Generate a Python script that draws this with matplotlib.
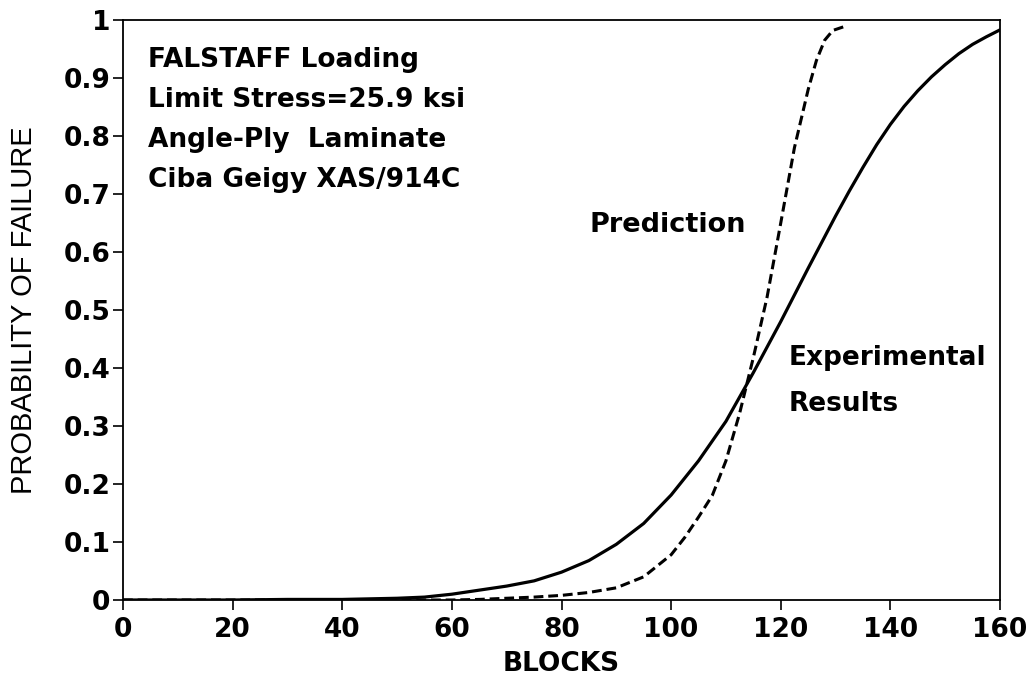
import matplotlib
matplotlib.use("Agg")
import matplotlib.pyplot as plt

# Experimental results (solid)
exp_blocks = [0, 10, 20, 30, 40, 50, 55, 60, 65, 70, 75, 80, 85, 90, 95, 100,
              105, 110, 115, 120, 125, 130, 132.5, 135, 137.5, 140, 142.5, 145,
              147.5, 150, 152.5, 155, 157.5, 160]
exp_prob = [0.0, 0.0, 0.0, 0.001, 0.001, 0.003, 0.005, 0.010, 0.017, 0.024, 0.033,
            0.048, 0.068, 0.096, 0.132, 0.181, 0.240, 0.308, 0.392, 0.480, 0.572,
            0.662, 0.705, 0.746, 0.785, 0.820, 0.851, 0.878, 0.902, 0.923, 0.942,
            0.958, 0.971, 0.983]

# Prediction (dashed)
pred_blocks = [0, 20, 40, 60, 65, 70, 75, 80, 85, 90, 95, 100, 102.5, 105, 107.5,
               110, 112.5, 115, 117.5, 120, 122.5, 125, 126.5, 128, 129.5, 132]
pred_prob = [0.0, 0.0, 0.0, 0.0, 0.001, 0.003, 0.005, 0.008, 0.013, 0.021, 0.040,
             0.078, 0.108, 0.143, 0.180, 0.240, 0.322, 0.418, 0.522, 0.650, 0.780,
             0.880, 0.930, 0.965, 0.982, 0.990]

x_ticks = [0, 20, 40, 60, 80, 100, 120, 140, 160]
y_ticks = [0, 0.1, 0.2, 0.3, 0.4, 0.5, 0.6, 0.7, 0.8, 0.9, 1]
y_tick_labels = ["0", "0.1", "0.2", "0.3", "0.4", "0.5", "0.6", "0.7", "0.8", "0.9", "1"]

info_lines = ["FALSTAFF Loading", "Limit Stress=25.9 ksi", "Angle-Ply  Laminate",
              "Ciba Geigy XAS/914C"]

plt.rcParams['font.family'] = ['DejaVu Sans']

fig = plt.figure(figsize=(10.26, 6.80), dpi=100)
ax = fig.add_axes([123 / 1026, 80 / 680, 877 / 1026, 580 / 680])

ax.plot(exp_blocks, exp_prob, color='black', lw=2.3, solid_capstyle='round')
ax.plot(pred_blocks, pred_prob, color='black', lw=2.2, linestyle=(0, (3.2, 1.6)))

ax.set_xlim(0, 160)
ax.set_ylim(0, 1)
ax.set_xticks(x_ticks)
ax.set_xticklabels([str(v) for v in x_ticks])
ax.set_yticks(y_ticks)
ax.set_yticklabels(y_tick_labels)

for s in ax.spines.values():
    s.set_linewidth(1.3)
    s.set_color('black')

ax.tick_params(direction='out', length=7, width=1.2, colors='black', labelsize=19, pad=2)
ax.tick_params(axis='x', pad=5)
for lbl in ax.get_xticklabels() + ax.get_yticklabels():
    lbl.set_fontweight('bold')

ax.set_xlabel("BLOCKS", fontsize=19, fontweight='bold', labelpad=6)
ax.set_ylabel("PROBABILITY OF FAILURE", fontsize=21, fontweight='normal',
              family=['Liberation Sans', 'DejaVu Sans'])
ax.yaxis.set_label_coords(-0.097, 0.5)

for i, line in enumerate(info_lines):
    ax.text(148 / 1026, (680 - (67 + 40 * i)) / 680, line, transform=fig.transFigure,
            fontsize=19, fontweight='bold', ha='left', va='baseline')

ax.text(590 / 1026, (680 - 232) / 680, "Prediction", transform=fig.transFigure,
        fontsize=19.5, fontweight='bold', ha='left', va='baseline')
ax.text(789 / 1026, (680 - 365) / 680, "Experimental", transform=fig.transFigure,
        fontsize=19, fontweight='bold', ha='left', va='baseline')
ax.text(789 / 1026, (680 - 411) / 680, "Results", transform=fig.transFigure,
        fontsize=19, fontweight='bold', ha='left', va='baseline')

fig.savefig("out.png", dpi=100, facecolor='white')
